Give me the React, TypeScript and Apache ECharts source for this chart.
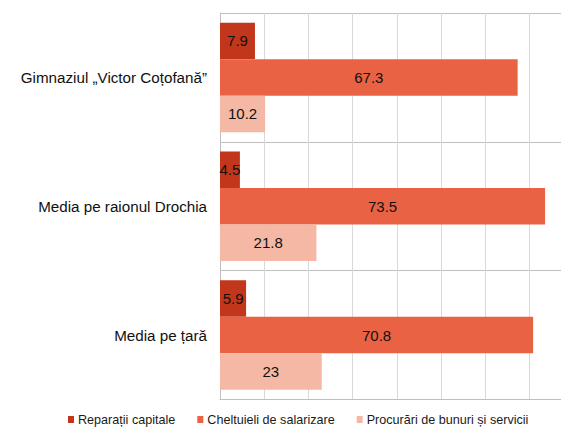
import React, { useEffect, useRef } from "react";
import * as echarts from "echarts";

const categories = ["Gimnaziul „Victor Coțofană”", "Media pe raionul Drochia", "Media pe țară"];
const seriesNames = ["Reparații capitale", "Cheltuieli de salarizare", "Procurări de bunuri și servicii"];
const reparatii = [7.9, 4.5, 5.9];
const salarizare = [67.3, 73.5, 70.8];
const procurari = [10.2, 21.8, 23];
const colors = ["#C2361C", "#EA6244", "#F4B8A4"];

export default function App() {
  const ref = useRef<HTMLDivElement>(null);
  useEffect(() => {
    if (!ref.current) return;
    const chart = echarts.init(ref.current, undefined, { renderer: "svg" });
    const font = "'Liberation Sans', Arial, sans-serif";
    const data = [reparatii, salarizare, procurari];
    chart.setOption({
      animation: false,
      textStyle: { fontFamily: font },
      legend: {
        bottom: -3,
        left: 63,
        itemWidth: 6,
        itemHeight: 7,
        itemGap: 22,
        icon: "rect",
        textStyle: { fontSize: 12.6, color: "#1a1a1a", fontFamily: font, padding: [0, 0, 0, -1] },
        data: seriesNames,
      },
      grid: { left: 220, top: 13, right: 0, bottom: 28.5, containLabel: false },
      xAxis: {
        type: "value",
        min: 0,
        max: 77.1,
        interval: 10,
        axisLabel: { show: false },
        axisTick: { show: false },
        axisLine: { show: true, lineStyle: { color: "#bfbfbf" } },
        splitLine: { show: true, lineStyle: { color: "#d9d9d9", width: 1 } },
      },
      yAxis: {
        type: "category",
        inverse: true,
        data: categories,
        axisLine: { show: true, lineStyle: { color: "#bfbfbf" } },
        axisTick: { show: false },
        splitLine: { show: true, lineStyle: { color: "#bfbfbf" } },
        axisLabel: { fontSize: 15.2, color: "#111", margin: 13, fontFamily: font },
      },
      series: seriesNames.map((name, i) => ({
        name,
        type: "bar",
        data: data[i],
        barGap: "0%",
        barCategoryGap: "15%",
        itemStyle: { color: colors[i] },
        label: {
          show: true,
          position: "inside",
          fontSize: 15,
          color: "#111",
          fontFamily: font,
        },
      })),
    });
    return () => chart.dispose();
  }, []);
  return <div ref={ref} style={{ width: 561, height: 428, position: "absolute", left: 0, top: 0 }} />;
}
